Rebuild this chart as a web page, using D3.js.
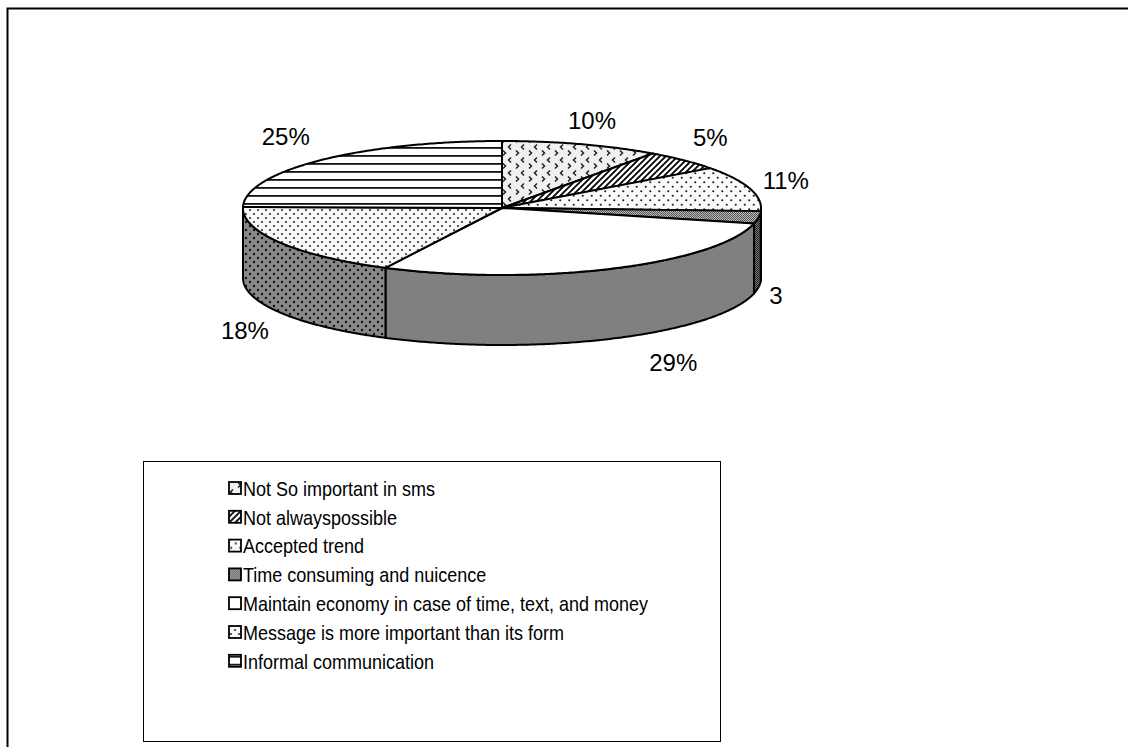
<!DOCTYPE html>
<html>
<head>
<meta charset="utf-8">
<script src="https://cdn.jsdelivr.net/npm/d3@7"></script>
<style>
  body { margin: 0; background: #fff; }
  text { font-family: Arial, "Liberation Sans", sans-serif; fill: #000; }
</style>
</head>
<body>
<div class="container"></div>
<script>
var categories = [
  'Not So important in sms',
  'Not alwayspossible',
  'Accepted trend',
  'Time consuming and nuicence',
  'Maintain economy in case of time, text, and money',
  'Message is more important than its form',
  'Informal communication'
];
var values = [10, 5, 11, 3, 29, 18, 25];
var labels = ['10%', '5%', '11%', '3', '29%', '18%', '25%'];

const WIDTH = 1128;
const HEIGHT = 747;
const CX = 502, CY = 208, RX = 259, RY = 67, DEPTH = 70;

// small hand nudges for the data labels, Excel places them a bit oddly
var labelShift = [[-3, 10], [-5, 2], [-7, 2], [-27, 3], [43, -8], [3, 0], [-3, 1]];

// fill for top face and for the visible side of each slice
var fills = [
  {top: 'url(#pConfetti)', side: 'url(#pConfettiDark)'},
  {top: 'url(#pDiag)', side: 'url(#pDiagDark)'},
  {top: 'url(#pDots)', side: 'url(#pDotsDark)'},
  {top: 'url(#pCheck)', side: 'url(#pCheckDark)'},
  {top: '#ffffff', side: '#808080'},
  {top: 'url(#pDots2)', side: 'url(#pDots2Dark)'},
  {top: 'url(#pHoriz)', side: 'url(#pHorizDark)'}
];

var svg = d3.select('.container').append('svg')
  .attr('width', WIDTH)
  .attr('height', HEIGHT);

var defs = svg.append('defs');

var makePattern = function (id, w, h, bg, draw) {
  var p = defs.append('pattern').attr('id', id)
    .attr('patternUnits', 'userSpaceOnUse')
    .attr('width', w).attr('height', h);
  p.append('rect').attr('width', w).attr('height', h).attr('fill', bg);
  draw(p);
};

var confetti = function (col) {
  return function (p) {
    p.append('path').attr('d', 'M4,1.5 L1.5,4 L4,6.5').attr('fill', 'none').attr('stroke', col).attr('stroke-width', 1.5);
    p.append('path').attr('d', 'M9,7.5 L11.5,10 L9,12.5').attr('fill', 'none').attr('stroke', col).attr('stroke-width', 1.5);
  };
};
makePattern('pConfetti', 13, 13, '#f0f0f0', confetti('#222'));
makePattern('pConfettiDark', 13, 13, '#888', confetti('#000'));

var diag = function (col) {
  return function (p) {
    p.append('path').attr('d', 'M-1,7 L7,-1 M-1,1 L1,-1 M5,7 L7,5').attr('stroke', col).attr('stroke-width', 1.8);
  };
};
makePattern('pDiag', 6, 6, '#fff', diag('#000'));
makePattern('pDiagDark', 6, 6, '#888', diag('#000'));

var dots = function (col, s, r) {
  return function (p) {
    p.append('circle').attr('cx', s / 4).attr('cy', s / 4).attr('r', r).attr('fill', col);
    p.append('circle').attr('cx', 3 * s / 4).attr('cy', 3 * s / 4).attr('r', r).attr('fill', col);
  };
};
makePattern('pDots', 9, 9, '#fafafa', dots('#222', 9, 1.1));
makePattern('pDotsDark', 9, 9, '#888', dots('#000', 9, 1.1));
makePattern('pDots2', 8, 8, '#f8f8f8', dots('#333', 8, 1.1));
makePattern('pDots2Dark', 8, 8, '#888', dots('#111', 8, 1.2));

var check = function (col) {
  return function (p) {
    p.append('rect').attr('width', 1).attr('height', 1).attr('fill', col);
    p.append('rect').attr('x', 1).attr('y', 1).attr('width', 1).attr('height', 1).attr('fill', col);
  };
};
makePattern('pCheck', 2, 2, '#bbb', check('#555'));
makePattern('pCheckDark', 2, 2, '#777', check('#222'));

var horiz = function (col) {
  return function (p) {
    p.append('rect').attr('y', 3).attr('width', 8).attr('height', 1.8).attr('fill', col);
  };
};
makePattern('pHoriz', 8, 8, '#fff', horiz('#111'));
makePattern('pHorizDark', 8, 8, '#888', horiz('#000'));

// outer chart border
svg.append('rect')
  .attr('x', 7.5).attr('y', 8.5)
  .attr('width', WIDTH + 20).attr('height', HEIGHT + 20)
  .attr('fill', 'none').attr('stroke', '#000').attr('stroke-width', 2);

// ellipse projection: sin -> x, cos -> y
var xScale = d3.scaleLinear().domain([-1, 1]).range([CX - RX, CX + RX]);
var yScale = d3.scaleLinear().domain([-1, 1]).range([CY + RY, CY - RY]);

var pie = d3.pie().sort(null).value(function (d) { return d; });
var arcs = pie(values);

var line = d3.line();

var rim = function (a0, a1, dy) {
  var n = Math.max(2, Math.ceil((a1 - a0) / 0.01));
  return d3.range(n + 1).map(function (i) {
    var a = a0 + (a1 - a0) * i / n;
    return [xScale(Math.sin(a)), yScale(Math.cos(a)) + dy];
  });
};

var topPath = function (d) {
  var pts = [[xScale(0), yScale(0)]].concat(rim(d.startAngle, d.endAngle, 0));
  return line(pts) + 'Z';
};

var sidePath = function (d) {
  var a0 = Math.max(d.startAngle, Math.PI / 2);
  var a1 = Math.min(d.endAngle, 3 * Math.PI / 2);
  if (a1 <= a0) return null;
  var pts = rim(a0, a1, 0).concat(rim(a0, a1, DEPTH).reverse());
  return line(pts) + 'Z';
};

var pieG = svg.append('g');

pieG.selectAll('path.side')
  .data(arcs.filter(function (d) { return sidePath(d) !== null; }))
  .enter().append('path')
  .attr('class', 'side')
  .attr('d', sidePath)
  .attr('fill', function (d) { return fills[d.index].side; })
  .attr('stroke', '#000').attr('stroke-width', 2)
  .attr('stroke-linejoin', 'round');

pieG.selectAll('path.top')
  .data(arcs)
  .enter().append('path')
  .attr('class', 'top')
  .attr('d', topPath)
  .attr('fill', function (d) { return fills[d.index].top; })
  .attr('stroke', '#000').attr('stroke-width', 2)
  .attr('stroke-linejoin', 'round');

// data labels outside the pie
pieG.selectAll('text.lbl')
  .data(arcs)
  .enter().append('text')
  .attr('class', 'lbl')
  .attr('x', function (d) {
    var m = (d.startAngle + d.endAngle) / 2;
    return CX + (RX + 45) * Math.sin(m) + labelShift[d.index][0];
  })
  .attr('y', function (d) {
    var m = (d.startAngle + d.endAngle) / 2;
    var c = Math.cos(m);
    return CY - (RY + 35) * c + (c < 0 ? DEPTH : 0) + labelShift[d.index][1];
  })
  .attr('text-anchor', 'middle')
  .attr('dominant-baseline', 'central')
  .style('font-size', '24px')
  .text(function (d) { return labels[d.index]; });

// legend
var LEG_X = 143, LEG_Y = 461, LEG_W = 577, LEG_H = 280, ROW = 28.8;
var legend = svg.append('g');
legend.append('rect')
  .attr('x', LEG_X + 0.5).attr('y', LEG_Y + 0.5)
  .attr('width', LEG_W).attr('height', LEG_H)
  .attr('fill', '#fff').attr('stroke', '#000').attr('stroke-width', 1);

var items = legend.selectAll('g.item')
  .data(categories)
  .enter().append('g')
  .attr('class', 'item')
  .attr('transform', function (d, i) {
    return 'translate(' + (LEG_X + 86) + ',' + (LEG_Y + 27 + i * ROW) + ')';
  });

items.append('rect')
  .attr('x', 0).attr('y', -6)
  .attr('width', 12).attr('height', 12)
  .attr('fill', function (d, i) { return fills[i].top; })
  .attr('stroke', '#000').attr('stroke-width', 1.8);

// the legend text in the original is a little narrow
items.append('text')
  .attr('transform', 'translate(14,1) scale(0.9,1)')
  .attr('dominant-baseline', 'central')
  .style('font-size', '20px')
  .text(function (d) { return d; });
</script>
</body>
</html>
